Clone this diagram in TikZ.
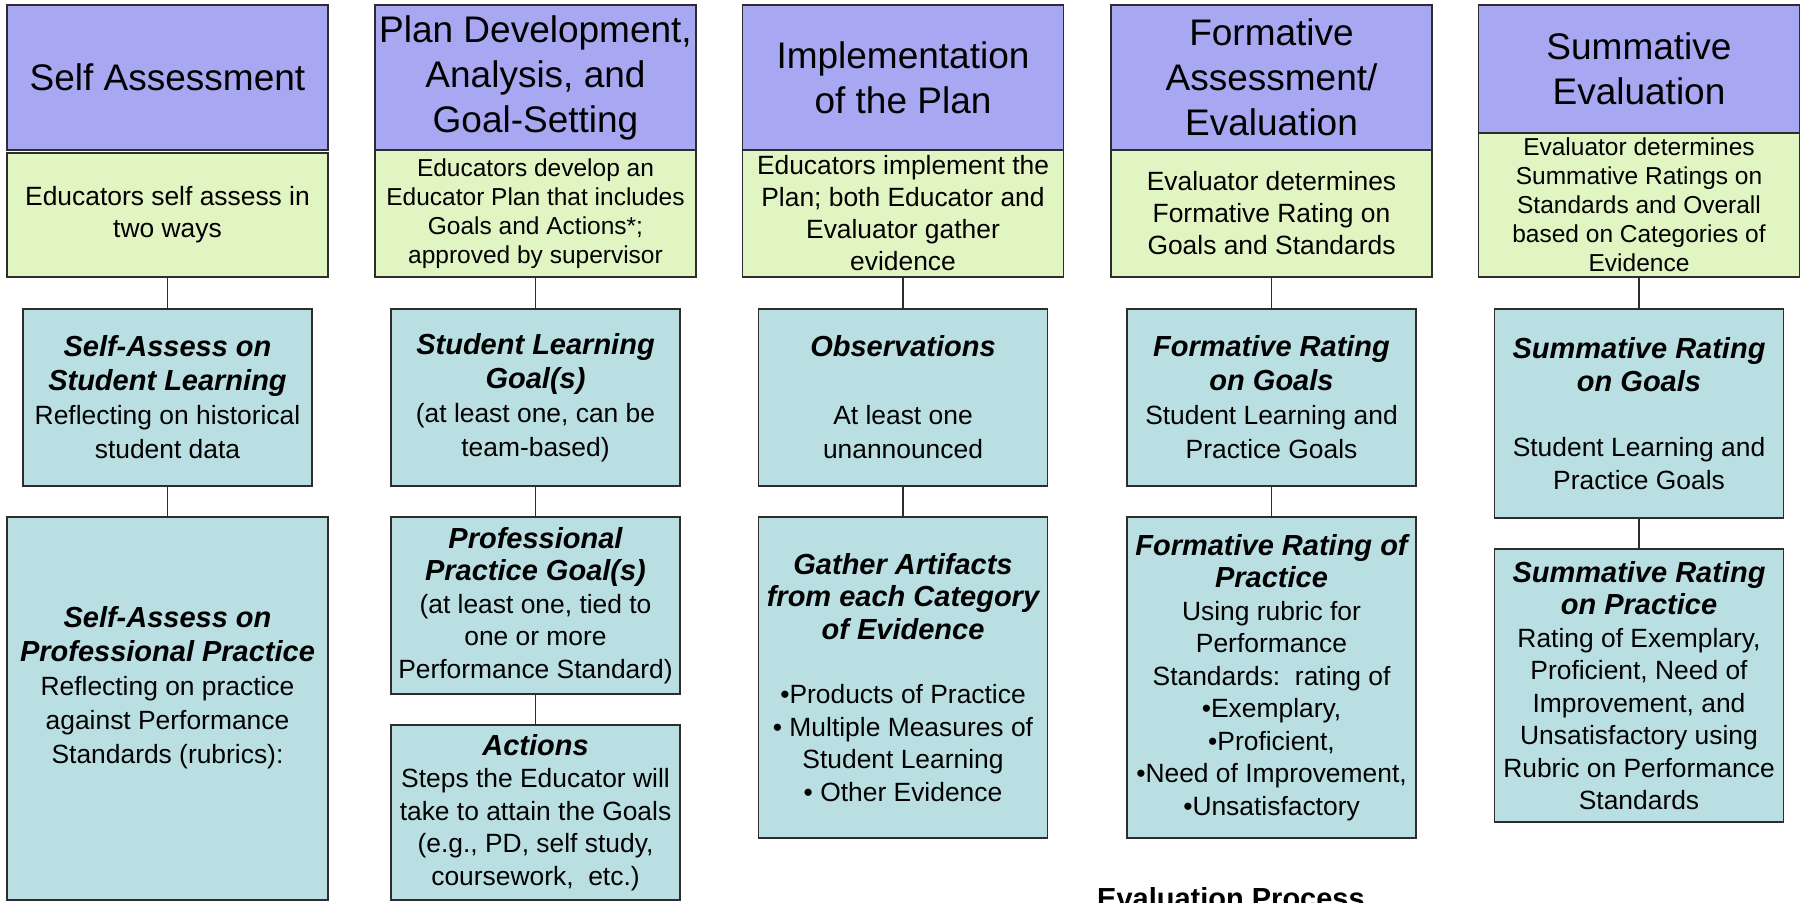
\documentclass[tikz,border=0pt]{standalone}
\usepackage{fontspec}
\setmainfont{Liberation Sans}
\definecolor{hdrc}{RGB}{168,168,242}
\definecolor{grnc}{RGB}{224,245,194}
\definecolor{bluc}{RGB}{185,223,227}
\definecolor{edgec}{RGB}{45,45,45}
\newcommand{\hbi}[1]{{\fontsize{29}{34}\selectfont\bfseries\itshape #1}}
\tikzset{
  box/.style={draw=edgec, line width=1.8pt, rectangle, inner sep=0pt, align=center, text=black},
  hdr/.style={box, fill=hdrc, font=\fontsize{37}{45}\selectfont},
  grn/.style={box, fill=grnc, font=\fontsize{26.4}{32}\selectfont},
  grns/.style={box, fill=grnc, font=\fontsize{24.5}{29}\selectfont},
  blu/.style={box, fill=bluc, font=\fontsize{26.4}{34}\selectfont},
  blut/.style={box, fill=bluc, font=\fontsize{26.4}{32.5}\selectfont},
  conn/.style={draw=edgec, line width=1.6pt},
  wide/.style={minimum width=321pt},
  narrow/.style={minimum width=289pt}
}
\begin{document}
\begin{tikzpicture}[x=1pt,y=-1pt]
\useasboundingbox[fill=white] (0,0) rectangle (1803,902);
% Column 1
\node[hdr,wide,minimum height=145pt] (h1) at (167.5,77.5) {Self Assessment};
\node[grn,wide,minimum height=124pt] (g1) at (167.5,215) {Educators self assess in\\two ways};
\node[blu,narrow,minimum height=177pt] (b11) at (167.5,397.5) {\hbi{Self-Assess on}\\\hbi{Student Learning}\\Reflecting on historical\\student data};
\node[blu,wide,minimum height=383pt] (b12) at (167.5,708.5) {\hbi{Self-Assess on}\\\hbi{Professional Practice}\\Reflecting on practice\\against Performance\\Standards (rubrics):\\[14pt]};
% Column 2
\node[hdr,wide,minimum height=145pt] (h2) at (535.5,77.5) {Plan Development,\\Analysis, and\\Goal-Setting};
\node[grns,wide,minimum height=127pt] (g2) at (535.5,213.5) {Educators develop an\\Educator Plan that includes\\Goals and Actions*;\\approved by supervisor};
\node[blu,narrow,minimum height=177pt] (b21) at (535.5,397.5) {\hbi{Student Learning}\\\hbi{Goal(s)}\\(at least one, can be\\team-based)};
\node[blut,narrow,minimum height=177pt] (b22) at (535.5,605.5) {\hbi{Professional}\\\hbi{Practice Goal(s)}\\(at least one, tied to\\one or more\\Performance Standard)};
\node[blut,narrow,minimum height=175pt] (b23) at (535.5,812.5) {\hbi{Actions}\\Steps the Educator will\\take to attain the Goals\\(e.g., PD, self study,\\coursework,\ \ etc.)};
% Column 3
\node[hdr,wide,minimum height=145pt] (h3) at (903,77.5) {Implementation\\of the Plan};
\node[grn,wide,minimum height=127pt] (g3) at (903,213.5) {Educators implement the\\Plan; both Educator and\\Evaluator gather\\evidence};
\node[blu,narrow,minimum height=177pt] (b31) at (903,397.5) {\hbi{Observations}\\[34pt]At least one\\unannounced};
\node[blut,narrow,minimum height=321pt] (b32) at (903,677.5) {\hbi{Gather Artifacts}\\\hbi{from each Category}\\\hbi{of Evidence}\\[32pt]•Products of Practice\\• Multiple Measures of\\Student Learning\\• Other Evidence};
% Column 4
\node[hdr,wide,minimum height=145pt] (h4) at (1271.5,77.5) {Formative\\Assessment/\\Evaluation};
\node[grn,wide,minimum height=127pt] (g4) at (1271.5,213.5) {Evaluator determines\\Formative Rating on\\Goals and Standards};
\node[blu,narrow,minimum height=177pt] (b41) at (1271.5,397.5) {\hbi{Formative Rating}\\\hbi{on Goals}\\Student Learning and\\Practice Goals};
\node[blut,narrow,minimum height=321pt] (b42) at (1271.5,677.5) {\hbi{Formative Rating of}\\\hbi{Practice}\\Using rubric for\\Performance\\Standards:\ \ rating of\\•Exemplary,\\•Proficient,\\•Need of Improvement,\\•Unsatisfactory};
% Column 5
\node[hdr,wide,minimum height=128pt] (h5) at (1639,69) {Summative\\Evaluation};
\node[grns,wide,minimum height=144pt] (g5) at (1639,205) {Evaluator determines\\Summative Ratings on\\Standards and Overall\\based on Categories of\\Evidence};
\node[blut,narrow,minimum height=209pt] (b51) at (1639,413.5) {\hbi{Summative Rating}\\\hbi{on Goals}\\[33pt]Student Learning and\\Practice Goals};
\node[blut,narrow,minimum height=273pt] (b52) at (1639,685.5) {\hbi{Summative Rating}\\\hbi{on Practice}\\Rating of Exemplary,\\Proficient, Need of\\Improvement, and\\Unsatisfactory using\\Rubric on Performance\\Standards};
% Connectors
\draw[conn] (g1.south) -- (b11.north);
\draw[conn] (b11.south) -- (b12.north);
\draw[conn] (g2.south) -- (b21.north);
\draw[conn] (b21.south) -- (b22.north);
\draw[conn] (b22.south) -- (b23.north);
\draw[conn] (g3.south) -- (b31.north);
\draw[conn] (b31.south) -- (b32.north);
\draw[conn] (g4.south) -- (b41.north);
\draw[conn] (b41.south) -- (b42.north);
\draw[conn] (g5.south) -- (b51.north);
\draw[conn] (b51.south) -- (b52.north);
% Title at bottom (cut off by the lower edge, as in the reference)
\node[anchor=base west, inner sep=0pt, font=\fontsize{29}{34}\selectfont\bfseries] (title) at (1097,908) {Evaluation Process};
\end{tikzpicture}
\end{document}
